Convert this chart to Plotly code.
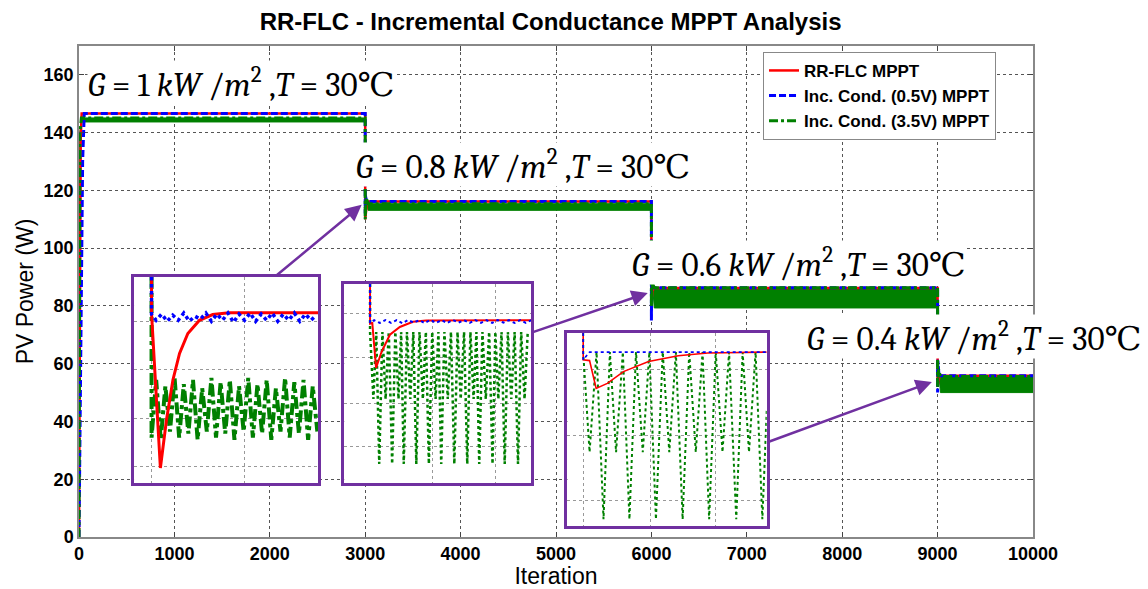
import plotly.graph_objects as go

# ---------------- main data ----------------
iter_red = [0, 18, 28, 3000, 3000, 3004, 3020, 6000, 6000, 6004, 6020, 9000, 9000, 9004, 9020, 10000]
pow_red = [0, 138, 146.6, 146.6, 110, 111, 116.2, 116.2, 82, 83, 86.2, 86.2, 52, 53, 55.8, 55.8]

iter_blue = [0, 38, 55, 3000, 3000, 3003, 3015, 6000, 6000, 6003, 6015, 9000, 9000, 9003, 9015, 10000]
pow_blue = [0, 130, 146.6, 146.6, 112, 118, 116.2, 116.2, 75, 88, 86.3, 86.3, 50, 61, 55.8, 55.8]

iter_green = [0, 10, 25, 3000, 3000, 3010, 3030, 6000, 6000, 6010, 6030, 9000, 9000, 9010, 9030, 10000]
pow_green_hi = [0, 140, 145.1, 145.1, 110, 117.5, 115.4, 115.4, 80, 88, 86.3, 86.3, 52, 58, 55.6, 55.6]
pow_green_lo = [0, 140, 143.7, 143.7, 110, 117.5, 113.1, 113.1, 80, 88, 79.3, 79.3, 52, 58, 50.0, 50.0]

# ---------------- inset 1 (normalised 0-100) ----------------
in1_red_x = [9.5, 9.5, 14.3, 17.6, 21.1, 24.7, 29.2, 35.5, 42.7, 51.6, 100]
in1_red_y = [100, 82.3, 7.3, 30.6, 50, 62.9, 72.6, 79, 81.8, 82.7, 82.7]
in1_blue_x = [9.5, 9.5, 12, 15, 18, 21, 24, 27, 30, 33, 36, 39, 42, 45, 48, 51, 54, 57, 60, 63, 66, 69, 72, 75, 78, 81, 84, 87, 90, 93, 96, 99]
in1_blue_y = [100, 82, 79, 82, 78.5, 81.5, 79, 82.5, 78.5, 81, 79.5, 82.5, 78.5, 82, 79, 82.5, 78, 82, 79, 82.5, 78.5, 82, 79, 82.5, 78.5, 82, 79, 82.5, 78.5, 82, 79, 81.5]
in1_green_x = [9.5, 9.5, 12, 14.5, 17, 19.5, 22, 24.5, 27, 29.5, 32, 34.5, 37, 39.5, 42, 44.5, 47, 49.5, 52, 54.5, 57, 59.5, 62, 64.5, 67, 69.5, 72, 74.5, 77, 79.5, 82, 84.5, 87, 89.5, 92, 94.5, 97, 99.5]
in1_green_y = [100, 22, 50, 21, 47, 25, 51, 22, 48, 24, 50, 21, 46, 25, 51, 22, 49, 24, 50, 21, 47, 25, 51, 22, 48, 24, 50, 21, 46, 25, 51, 22, 49, 24, 50, 21, 47, 25]

# ---------------- inset 2 ----------------
in2_red_x = [13.8, 13.8, 15, 17, 19.9, 24.4, 29.7, 36.7, 43.8, 100]
in2_red_y = [100, 80.1, 80.4, 57.8, 65.8, 74.5, 78.4, 81, 81.6, 81.8]
in2_blue_x = [13.8, 13.8, 16, 19, 22, 25, 28, 31, 34, 37, 40, 43, 46, 49, 52, 55, 58, 61, 64, 67, 70, 73, 76, 79, 82, 85, 88, 91, 94, 97, 100]
in2_blue_y = [100, 80.5, 81.8, 80.4, 81.9, 80.5, 81.8, 80.3, 81.9, 80.6, 81.8, 80.4, 81.9, 80.5, 81.8, 80.4, 81.9, 80.6, 81.8, 80.4, 81.9, 80.5, 81.8, 80.4, 81.9, 80.6, 81.8, 80.4, 81.9, 80.5, 81.8]
in2_green_x = [13.8, 13.8, 15.6, 17.1, 18.7, 20.4, 22.1, 23.8, 25.6, 27.3, 29.0, 30.4, 31.8, 33.5, 35.3, 36.9, 38.5, 40.2, 42.0, 43.6, 45.2, 47.0, 48.8, 50.3, 51.8, 53.5, 55.3, 57.0, 58.8, 60.5, 62.2, 64.0, 65.7, 67.4, 69.1, 70.6, 72.1, 73.8, 75.6, 77.4, 79.2, 80.7, 82.3, 84.0, 85.7, 87.4, 89.2, 91.0, 92.8, 94.5, 96.3, 98.0]
in2_green_y = [100, 75.9, 42.2, 75.9, 9.6, 75.9, 42.2, 75.9, 9.6, 75.9, 42.2, 75.9, 9.6, 75.9, 42.2, 75.9, 9.6, 75.9, 42.2, 75.9, 9.6, 75.9, 42.2, 75.9, 9.6, 75.9, 42.2, 75.9, 9.6, 75.9, 42.2, 75.9, 9.6, 75.9, 42.2, 75.9, 9.6, 75.9, 42.2, 75.9, 9.6, 75.9, 42.2, 75.9, 9.6, 75.9, 42.2, 75.9, 9.6, 75.9, 42.2, 75.9]

# ---------------- inset 3 ----------------
in3_red_x = [7.9, 7.9, 11.1, 14.4, 20, 28.1, 40.7, 55.6, 70.4, 85, 100]
in3_red_y = [100, 86.1, 85.7, 71.3, 73.9, 80, 85.2, 88.2, 89.6, 90, 90.1]
in3_blue_x = [7.9, 7.9, 11.1, 100]
in3_blue_y = [100, 86.1, 90.1, 90.1]
in3_green_x = [7.9, 7.9, 11.1, 14.6, 18.1, 21.3, 24.4, 27.8, 31.1, 34.4, 37.8, 41.1, 44.4, 47.8, 51.1, 54.4, 57.8, 61.1, 64.4, 67.8, 71.1, 74.4, 77.8, 81.1, 84.7, 87.9, 91.1, 94.4, 97.8, 100]
in3_green_y = [100, 90.1, 38.3, 90.1, 3.5, 90.1, 38.3, 90.1, 3.5, 90.1, 38.3, 90.1, 3.5, 90.1, 38.3, 90.1, 3.5, 90.1, 38.3, 90.1, 3.5, 90.1, 38.3, 90.1, 3.5, 90.1, 38.3, 90.1, 3.5, 60]

x_ticks = [0, 1000, 2000, 3000, 4000, 5000, 6000, 7000, 8000, 9000, 10000]
x_tick_text = ["0", "1000", "2000", "3000", "4000", "5000", "6000", "7000", "8000", "9000", "10000"]
y_ticks = [0, 20, 40, 60, 80, 100, 120, 140, 160]

RED = "#FF0000"
BLUE = "#0000FF"
GREEN = "#008000"
PURPLE = "#7030A0"

fig = go.Figure()

# green band (oscillation envelope)
fig.add_trace(go.Scatter(x=iter_green, y=pow_green_lo, mode="lines", line=dict(color=GREEN, width=1),
                         showlegend=False, hoverinfo="skip"))
fig.add_trace(go.Scatter(x=iter_green, y=pow_green_hi, mode="lines", line=dict(color=GREEN, width=1),
                         fill="tonexty", fillcolor=GREEN, showlegend=False, hoverinfo="skip"))
fig.add_trace(go.Scatter(x=iter_red, y=pow_red, mode="lines", name="RR-FLC MPPT",
                         line=dict(color=RED, width=2.5)))
fig.add_trace(go.Scatter(x=iter_blue, y=pow_blue, mode="lines", name="Inc. Cond. (0.5V) MPPT",
                         line=dict(color=BLUE, width=3, dash="7px,3px")))
fig.add_trace(go.Scatter(x=iter_green, y=pow_green_hi, mode="lines", name="Inc. Cond. (3.5V) MPPT",
                         line=dict(color=GREEN, width=3, dash="dashdot")))

insets = [
    (2, in1_red_x, in1_red_y, in1_blue_x, in1_blue_y, in1_green_x, in1_green_y, 3, 3.5, 4, "dot", "dashdot"),
    (3, in2_red_x, in2_red_y, in2_blue_x, in2_blue_y, in2_green_x, in2_green_y, 2, 2, 2.5, "dot", "dot"),
    (4, in3_red_x, in3_red_y, in3_blue_x, in3_blue_y, in3_green_x, in3_green_y, 1.6, 1.6, 2, "dot", "dot"),
]
for (k, rx, ry, bx, by, gx, gy, rw, bw, gw, bd, gd) in insets:
    xa, ya = f"x{k}", f"y{k}"
    fig.add_trace(go.Scatter(x=gx, y=gy, mode="lines", xaxis=xa, yaxis=ya, showlegend=False,
                             line=dict(color=GREEN, width=gw, dash=gd), hoverinfo="skip"))
    fig.add_trace(go.Scatter(x=rx, y=ry, mode="lines", xaxis=xa, yaxis=ya, showlegend=False,
                             line=dict(color=RED, width=rw), hoverinfo="skip"))
    fig.add_trace(go.Scatter(x=bx, y=by, mode="lines", xaxis=xa, yaxis=ya, showlegend=False,
                             line=dict(color=BLUE, width=bw, dash=bd), hoverinfo="skip"))

SANS = "Liberation Sans Narrow, Arial Narrow, Liberation Sans, Arial"
TICKFONT = dict(family=SANS, size=18, color="black", weight="bold")
TITLEFONT = dict(family=SANS, size=23, color="black")

fig.update_layout(
    width=1140, height=581,
    margin=dict(l=71, r=115, t=38, b=52),
    paper_bgcolor="white", plot_bgcolor="white",
    title=dict(text="<b>RR-FLC - Incremental Conductance MPPT Analysis</b>", x=0.476, xanchor="center",
               y=0.977, yanchor="middle",
               font=dict(family=SANS, size=24, color="black")),
    xaxis=dict(range=[0, 10000], tickvals=x_ticks, ticktext=x_tick_text, ticks="inside", ticklen=5,
               tickcolor="#444", automargin=False,
               showline=True, mirror="ticks", linecolor="#888", linewidth=1.5,
               showgrid=True, gridcolor="#555", griddash="dot", gridwidth=1, zeroline=False,
               tickfont=TICKFONT, title=dict(text="Iteration", font=TITLEFONT, standoff=5)),
    yaxis=dict(range=[0, 170], tickvals=y_ticks, ticks="inside", ticklen=5, tickcolor="#444",
               automargin=False,
               showline=True, mirror="ticks", linecolor="#888", linewidth=1.5,
               showgrid=True, gridcolor="#555", griddash="dot", gridwidth=1, zeroline=False,
               tickfont=TICKFONT, title=dict(text="PV Power (W)", font=TITLEFONT, standoff=4)),
    legend=dict(x=0.717, y=0.988, xanchor="left", yanchor="top", bgcolor="white",
                bordercolor="#888", borderwidth=1, tracegroupgap=0, traceorder="normal",
                font=dict(family="Liberation Sans, Arial", size=17, color="black", weight="bold")),
    showlegend=True,
)

inset_dom = {
    2: ([0.0577, 0.2508], [0.110, 0.5295], [9.5, 59.7], [8, 31.5, 55, 78.2]),
    3: ([0.278, 0.4743], [0.110, 0.5153], [47.3, 81], [18.5, 40, 63, 85]),
    4: ([0.512, 0.7209], [0.0224, 0.4155], [8, 41.5, 74.5], [13, 47, 81]),
}
for k, (dx, dy, gxv, gyv) in inset_dom.items():
    common = dict(showline=True, mirror=True, linecolor=PURPLE, linewidth=3, showticklabels=False,
                  ticks="", zeroline=False, showgrid=True, gridcolor="#999", griddash="dot", gridwidth=1,
                  range=[0, 100], fixedrange=True, automargin=False)
    fig.update_layout(**{
        f"xaxis{k}": dict(domain=dx, anchor=f"y{k}", tickvals=gxv, **common),
        f"yaxis{k}": dict(domain=dy, anchor=f"x{k}", tickvals=gyv, **common),
    })

SERIF = "Cambria Math, Cambria, Liberation Serif, DejaVu Serif, serif"
SP = "&nbsp;"
def label(val):
    return (f"<i>G</i>{SP}={SP}{val}{SP}<i>kW</i>{SP}/<i>m</i><sup>2</sup>{SP},<i>T</i>{SP}={SP}30℃")

labels = [
    (label("1"), 0.0089, 0.9266),
    (label("0.8"), 0.289, 0.7596),
    (label("0.6"), 0.5783, 0.560),
    (label("0.4"), 0.762, 0.408),
]
for txt, ax_, ay_ in labels:
    fig.add_annotation(text=txt, xref="paper", yref="paper", x=ax_, y=ay_, xanchor="left", yanchor="middle",
                       showarrow=False, bgcolor="white", borderpad=0,
                       font=dict(family=SERIF, size=33, color="black"))

arrows = [
    (2963, 115.0, 2050, 90.0),
    (5962, 84.5, 4735, 70.65),
    (8940, 53.7, 7200, 32.6),
]
for hx, hy, tx, ty in arrows:
    fig.add_annotation(x=hx, y=hy, ax=tx, ay=ty, xref="x", yref="y", axref="x", ayref="y",
                       text="", showarrow=True, arrowhead=2, arrowsize=1.3, arrowwidth=2.5,
                       arrowcolor=PURPLE)

fig.write_html("out.html")
